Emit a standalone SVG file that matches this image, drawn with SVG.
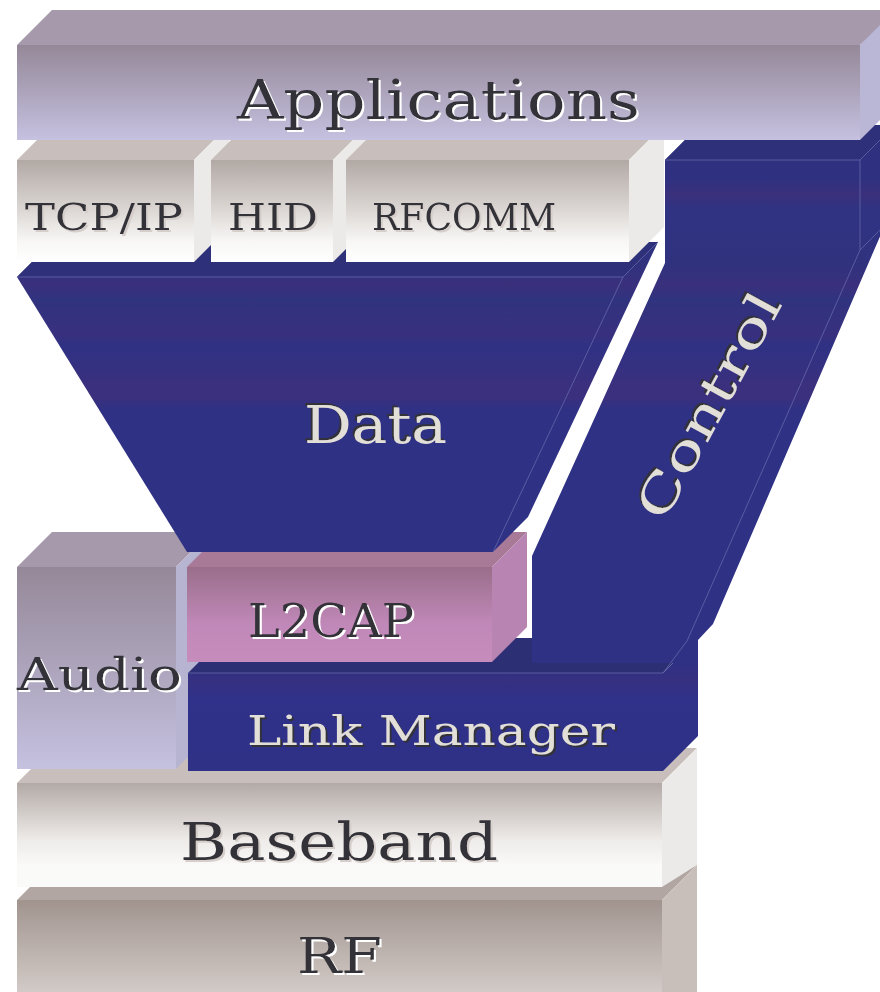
<svg xmlns="http://www.w3.org/2000/svg" width="880" height="992" viewBox="0 0 880 992">
<defs>
<linearGradient id="gApp" x1="0" y1="0" x2="0" y2="1"><stop offset="0" stop-color="#958898"/><stop offset="1" stop-color="#c5c1e0"/></linearGradient>
<linearGradient id="gLight" x1="0" y1="0" x2="0" y2="1"><stop offset="0" stop-color="#b2a9a5"/><stop offset="0.5" stop-color="#ddd8d5"/><stop offset="0.8" stop-color="#f8f7f6"/><stop offset="1" stop-color="#ffffff"/></linearGradient>
<linearGradient id="gBase" x1="0" y1="0" x2="0" y2="1"><stop offset="0" stop-color="#b3aaa6"/><stop offset="0.55" stop-color="#eeebe9"/><stop offset="0.8" stop-color="#fafaf9"/><stop offset="1" stop-color="#fafaf9"/></linearGradient>
<linearGradient id="gRF" x1="0" y1="0" x2="0" y2="1"><stop offset="0" stop-color="#a1948f"/><stop offset="1" stop-color="#d6cfcb"/></linearGradient>
<linearGradient id="gL2" x1="0" y1="0" x2="0" y2="1"><stop offset="0" stop-color="#9a6e8a"/><stop offset="0.6" stop-color="#c088b8"/><stop offset="1" stop-color="#c68cbc"/></linearGradient>
<linearGradient id="gNavy" gradientUnits="userSpaceOnUse" x1="0" y1="125" x2="0" y2="780">
<stop offset="0" stop-color="#2f3180"/><stop offset="0.084" stop-color="#2f3180"/><stop offset="0.107" stop-color="#3b307b"/><stop offset="0.127" stop-color="#2f3382"/>
<stop offset="0.214" stop-color="#30327e"/><stop offset="0.244" stop-color="#3a307c"/><stop offset="0.267" stop-color="#30337f"/>
<stop offset="0.321" stop-color="#38307e"/><stop offset="0.336" stop-color="#2f3184"/><stop offset="0.397" stop-color="#3a307e"/>
<stop offset="0.417" stop-color="#3a307e"/><stop offset="0.435" stop-color="#2f3185"/><stop offset="0.82" stop-color="#2f3185"/>
<stop offset="0.847" stop-color="#363080"/><stop offset="0.878" stop-color="#2f318a"/><stop offset="1" stop-color="#2f3186"/>
</linearGradient>
<filter id="shW" x="-10%" y="-10%" width="130%" height="130%"><feDropShadow dx="2" dy="2" stdDeviation="0" flood-color="#ffffff"/></filter>
<filter id="shG" x="-10%" y="-10%" width="130%" height="130%"><feDropShadow dx="2" dy="2" stdDeviation="0" flood-color="#d6cecb"/></filter>
<filter id="shD" x="-10%" y="-10%" width="130%" height="130%"><feDropShadow dx="-2" dy="-2" stdDeviation="0" flood-color="#333338"/></filter>
<filter id="shD2" x="-10%" y="-10%" width="130%" height="130%"><feDropShadow dx="2" dy="2" stdDeviation="0" flood-color="#333338"/></filter>
</defs>
<style>
text{font-family:"DejaVu Serif","Liberation Serif",serif;}
.dk{fill:#333338;}
.lt{fill:#e2ded8;}
.navy{fill:url(#gNavy);}
.edge{fill:none;stroke:#6468a8;stroke-width:0.8;}
</style>
<rect width="880" height="992" fill="#ffffff"/>

<g id="rf">
<polygon points="17,900 52,865 697,865 662,900" fill="#b1a6a1"/>
<polygon points="662,900 697,865 697,1000 662,1000" fill="#c8bfbb"/>
<rect x="17" y="900" width="645" height="100" fill="url(#gRF)"/>
<text class="dk" x="297" y="973" font-size="49" textLength="85" lengthAdjust="spacingAndGlyphs" filter="url(#shW)">RF</text>
</g>

<g id="baseband">
<polygon points="17,783 52,748 697,748 662,783" fill="#c8bfbc"/>
<polygon points="662,783 697,748 697,865 662,887" fill="#ebeae8"/>
<rect x="17" y="783" width="645" height="104" fill="url(#gBase)"/>
<text class="dk" x="180" y="860" font-size="52" textLength="318" lengthAdjust="spacingAndGlyphs" filter="url(#shG)">Baseband</text>
</g>

<g id="audio">
<polygon points="17,567 52,532 211,532 176,567" fill="#a599ab"/>
<polygon points="176,567 211,532 211,734 176,769" fill="#b7b4d2"/>
<rect x="17" y="567" width="159" height="202" fill="url(#gApp)"/>
<text class="dk" x="17" y="690" font-size="45" textLength="165" lengthAdjust="spacingAndGlyphs" filter="url(#shW)">Audio</text>
</g>

<g id="link-manager">
<polygon points="188,673 223,638 698,638 663,673" fill="#2d2f74"/>
<polygon points="663,673 698,638 698,736 663,771" class="navy"/>
<rect x="188" y="673" width="475" height="98" class="navy"/>
<polyline class="edge" points="188,673 663,673 698,638"/>
<text class="lt" x="247" y="745" font-size="41" textLength="368" lengthAdjust="spacingAndGlyphs" filter="url(#shD2)">Link Manager</text>
</g>

<g id="control">
<polygon points="665,160 700,125 900,125 900,190 713,624 698,640 698,663 532,663 532,556 665,263" class="navy"/>
<polygon points="665,160 700,125 900,125 860,160" fill="#2e3079"/>
<polyline class="edge" points="665,160 860,160 860,250 687,641 663,673"/>
<line class="edge" x1="860" y1="160" x2="880" y2="140"/>
<line class="edge" x1="860" y1="250" x2="880" y2="230"/>
<g filter="url(#shD)">
<text class="lt" transform="translate(711,407) rotate(-61.5)" x="0" y="14" font-size="48" text-anchor="middle" textLength="250" lengthAdjust="spacingAndGlyphs">Control</text>
</g>
</g>

<g id="l2cap">
<polygon points="187,567 222,532 527,532 492,567" fill="#a87a98"/>
<polygon points="492,567 527,532 527,627 492,662" fill="#b884b2"/>
<rect x="187" y="567" width="305" height="95" fill="url(#gL2)"/>
<text class="dk" x="248" y="637" font-size="47" textLength="166" lengthAdjust="spacingAndGlyphs" filter="url(#shW)">L2CAP</text>
</g>

<g id="data">
<polygon points="17,277 52,242 658,242 528,517 493,552 187,552" class="navy"/>
<polygon points="17,277 52,242 658,242 623,277" fill="#2e3079"/>
<polyline class="edge" points="17,277 623,277 493,552"/>
<line class="edge" x1="623" y1="277" x2="658" y2="242"/>
<text class="lt" x="304" y="443" font-size="52" textLength="143" lengthAdjust="spacingAndGlyphs" filter="url(#shD)">Data</text>
</g>

<g id="tcpip">
<polygon points="17,160 52,125 229,125 194,160" fill="#c8bfbc"/>
<polygon points="194,160 229,125 229,227 194,262" fill="#ebeae8"/>
<rect x="17" y="160" width="177" height="102" fill="url(#gLight)"/>
<text class="dk" x="25" y="230" font-size="38" textLength="158" lengthAdjust="spacingAndGlyphs" filter="url(#shG)">TCP/IP</text>
</g>

<g id="hid">
<polygon points="211,160 246,125 368,125 333,160" fill="#c8bfbc"/>
<polygon points="333,160 368,125 368,227 333,262" fill="#ebeae8"/>
<rect x="211" y="160" width="122" height="102" fill="url(#gLight)"/>
<text class="dk" x="228" y="230" font-size="38" textLength="90" lengthAdjust="spacingAndGlyphs" filter="url(#shG)">HID</text>
</g>

<g id="rfcomm">
<polygon points="346,160 381,125 664,125 629,160" fill="#c8bfbc"/>
<polygon points="629,160 664,125 664,227 629,262" fill="#ebeae8"/>
<rect x="346" y="160" width="283" height="102" fill="url(#gLight)"/>
<text class="dk" x="372" y="230" font-size="38" textLength="184" lengthAdjust="spacingAndGlyphs" filter="url(#shG)">RFCOMM</text>
</g>

<g id="applications">
<polygon points="17,45 52,10 900,10 860,45" fill="#a599ab"/>
<polygon points="860,45 895,10 895,105 860,140" fill="#b9b6d6"/>
<rect x="17" y="45" width="843" height="95" fill="url(#gApp)"/>
<text class="dk" x="237" y="119" font-size="55" textLength="403" lengthAdjust="spacingAndGlyphs" filter="url(#shW)">Applications</text>
</g>
</svg>
